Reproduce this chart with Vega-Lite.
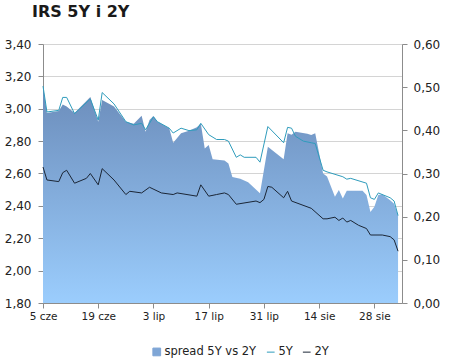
{
  "$schema": "https://vega.github.io/schema/vega-lite/v6.json",
  "width": 359,
  "height": 259,
  "autosize": {"type": "none"},
  "padding": {"left": 43, "top": 44, "right": 48, "bottom": 60},
  "background": "#ffffff",
  "title": {
    "text": "IRS 5Y i 2Y",
    "anchor": "start",
    "frame": "group",
    "dx": -11,
    "offset": 18,
    "font": "DejaVu Sans",
    "fontSize": 16,
    "fontWeight": "bold",
    "color": "#1a1a1a"
  },
  "config": {
    "view": {"stroke": null},
    "axis": {
      "labelFont": "DejaVu Sans",
      "labelFontSize": 12,
      "labelColor": "#222222",
      "domainColor": "#8c8c8c",
      "tickColor": "#8c8c8c",
      "tickSize": 5,
      "title": null
    },
    "legend": {"labelFont": "DejaVu Sans", "labelFontSize": 11.5, "labelColor": "#222222"}
  },
  "data": {
    "values": [
      {"date": "2014-06-05", "series": "spread", "value": 0.503},
      {"date": "2014-06-06", "series": "spread", "value": 0.44},
      {"date": "2014-06-09", "series": "spread", "value": 0.445},
      {"date": "2014-06-10", "series": "spread", "value": 0.46},
      {"date": "2014-06-11", "series": "spread", "value": 0.455},
      {"date": "2014-06-13", "series": "spread", "value": 0.44},
      {"date": "2014-06-17", "series": "spread", "value": 0.477},
      {"date": "2014-06-19", "series": "spread", "value": 0.42},
      {"date": "2014-06-20", "series": "spread", "value": 0.47},
      {"date": "2014-06-23", "series": "spread", "value": 0.455},
      {"date": "2014-06-26", "series": "spread", "value": 0.42},
      {"date": "2014-06-28", "series": "spread", "value": 0.415},
      {"date": "2014-06-30", "series": "spread", "value": 0.434},
      {"date": "2014-07-01", "series": "spread", "value": 0.397},
      {"date": "2014-07-02", "series": "spread", "value": 0.424},
      {"date": "2014-07-03", "series": "spread", "value": 0.433},
      {"date": "2014-07-04", "series": "spread", "value": 0.42},
      {"date": "2014-07-07", "series": "spread", "value": 0.405},
      {"date": "2014-07-08", "series": "spread", "value": 0.371},
      {"date": "2014-07-10", "series": "spread", "value": 0.393},
      {"date": "2014-07-12", "series": "spread", "value": 0.399},
      {"date": "2014-07-14", "series": "spread", "value": 0.407},
      {"date": "2014-07-15", "series": "spread", "value": 0.416},
      {"date": "2014-07-16", "series": "spread", "value": 0.358},
      {"date": "2014-07-17", "series": "spread", "value": 0.366},
      {"date": "2014-07-18", "series": "spread", "value": 0.333},
      {"date": "2014-07-21", "series": "spread", "value": 0.33},
      {"date": "2014-07-22", "series": "spread", "value": 0.323},
      {"date": "2014-07-23", "series": "spread", "value": 0.292},
      {"date": "2014-07-25", "series": "spread", "value": 0.288},
      {"date": "2014-07-27", "series": "spread", "value": 0.28},
      {"date": "2014-07-30", "series": "spread", "value": 0.254},
      {"date": "2014-08-01", "series": "spread", "value": 0.362},
      {"date": "2014-08-05", "series": "spread", "value": 0.333},
      {"date": "2014-08-06", "series": "spread", "value": 0.393},
      {"date": "2014-08-07", "series": "spread", "value": 0.39},
      {"date": "2014-08-08", "series": "spread", "value": 0.397},
      {"date": "2014-08-11", "series": "spread", "value": 0.392},
      {"date": "2014-08-12", "series": "spread", "value": 0.389},
      {"date": "2014-08-13", "series": "spread", "value": 0.393},
      {"date": "2014-08-15", "series": "spread", "value": 0.30},
      {"date": "2014-08-16", "series": "spread", "value": 0.293},
      {"date": "2014-08-18", "series": "spread", "value": 0.246},
      {"date": "2014-08-19", "series": "spread", "value": 0.262},
      {"date": "2014-08-20", "series": "spread", "value": 0.242},
      {"date": "2014-08-21", "series": "spread", "value": 0.26},
      {"date": "2014-08-25", "series": "spread", "value": 0.26},
      {"date": "2014-08-26", "series": "spread", "value": 0.25},
      {"date": "2014-08-27", "series": "spread", "value": 0.211},
      {"date": "2014-08-28", "series": "spread", "value": 0.223},
      {"date": "2014-08-29", "series": "spread", "value": 0.25},
      {"date": "2014-08-30", "series": "spread", "value": 0.252},
      {"date": "2014-09-01", "series": "spread", "value": 0.238},
      {"date": "2014-09-02", "series": "spread", "value": 0.23},
      {"date": "2014-09-03", "series": "spread", "value": 0.203},

      {"date": "2014-06-05", "series": "5Y", "value": 3.14},
      {"date": "2014-06-06", "series": "5Y", "value": 2.98},
      {"date": "2014-06-09", "series": "5Y", "value": 2.99},
      {"date": "2014-06-10", "series": "5Y", "value": 3.07},
      {"date": "2014-06-11", "series": "5Y", "value": 3.07},
      {"date": "2014-06-13", "series": "5Y", "value": 2.97},
      {"date": "2014-06-17", "series": "5Y", "value": 3.06},
      {"date": "2014-06-19", "series": "5Y", "value": 2.93},
      {"date": "2014-06-20", "series": "5Y", "value": 3.10},
      {"date": "2014-06-23", "series": "5Y", "value": 3.03},
      {"date": "2014-06-26", "series": "5Y", "value": 2.92},
      {"date": "2014-06-28", "series": "5Y", "value": 2.90},
      {"date": "2014-06-30", "series": "5Y", "value": 2.91},
      {"date": "2014-07-01", "series": "5Y", "value": 2.87},
      {"date": "2014-07-03", "series": "5Y", "value": 2.95},
      {"date": "2014-07-04", "series": "5Y", "value": 2.92},
      {"date": "2014-07-07", "series": "5Y", "value": 2.88},
      {"date": "2014-07-08", "series": "5Y", "value": 2.85},
      {"date": "2014-07-10", "series": "5Y", "value": 2.88},
      {"date": "2014-07-12", "series": "5Y", "value": 2.865},
      {"date": "2014-07-14", "series": "5Y", "value": 2.87},
      {"date": "2014-07-15", "series": "5Y", "value": 2.91},
      {"date": "2014-07-17", "series": "5Y", "value": 2.84},
      {"date": "2014-07-19", "series": "5Y", "value": 2.81},
      {"date": "2014-07-21", "series": "5Y", "value": 2.81},
      {"date": "2014-07-22", "series": "5Y", "value": 2.80},
      {"date": "2014-07-24", "series": "5Y", "value": 2.70},
      {"date": "2014-07-25", "series": "5Y", "value": 2.715},
      {"date": "2014-07-26", "series": "5Y", "value": 2.70},
      {"date": "2014-07-29", "series": "5Y", "value": 2.70},
      {"date": "2014-07-30", "series": "5Y", "value": 2.67},
      {"date": "2014-08-01", "series": "5Y", "value": 2.89},
      {"date": "2014-08-05", "series": "5Y", "value": 2.79},
      {"date": "2014-08-06", "series": "5Y", "value": 2.885},
      {"date": "2014-08-07", "series": "5Y", "value": 2.88},
      {"date": "2014-08-08", "series": "5Y", "value": 2.83},
      {"date": "2014-08-10", "series": "5Y", "value": 2.80},
      {"date": "2014-08-12", "series": "5Y", "value": 2.79},
      {"date": "2014-08-13", "series": "5Y", "value": 2.785},
      {"date": "2014-08-15", "series": "5Y", "value": 2.62},
      {"date": "2014-08-16", "series": "5Y", "value": 2.61},
      {"date": "2014-08-20", "series": "5Y", "value": 2.58},
      {"date": "2014-08-21", "series": "5Y", "value": 2.565},
      {"date": "2014-08-22", "series": "5Y", "value": 2.57},
      {"date": "2014-08-26", "series": "5Y", "value": 2.54},
      {"date": "2014-08-27", "series": "5Y", "value": 2.45},
      {"date": "2014-08-28", "series": "5Y", "value": 2.44},
      {"date": "2014-08-29", "series": "5Y", "value": 2.48},
      {"date": "2014-09-01", "series": "5Y", "value": 2.45},
      {"date": "2014-09-02", "series": "5Y", "value": 2.43},
      {"date": "2014-09-03", "series": "5Y", "value": 2.34},

      {"date": "2014-06-05", "series": "2Y", "value": 2.64},
      {"date": "2014-06-06", "series": "2Y", "value": 2.56},
      {"date": "2014-06-09", "series": "2Y", "value": 2.55},
      {"date": "2014-06-10", "series": "2Y", "value": 2.605},
      {"date": "2014-06-11", "series": "2Y", "value": 2.62},
      {"date": "2014-06-13", "series": "2Y", "value": 2.54},
      {"date": "2014-06-16", "series": "2Y", "value": 2.57},
      {"date": "2014-06-17", "series": "2Y", "value": 2.60},
      {"date": "2014-06-19", "series": "2Y", "value": 2.53},
      {"date": "2014-06-20", "series": "2Y", "value": 2.63},
      {"date": "2014-06-23", "series": "2Y", "value": 2.56},
      {"date": "2014-06-26", "series": "2Y", "value": 2.47},
      {"date": "2014-06-27", "series": "2Y", "value": 2.49},
      {"date": "2014-06-30", "series": "2Y", "value": 2.48},
      {"date": "2014-07-02", "series": "2Y", "value": 2.515},
      {"date": "2014-07-05", "series": "2Y", "value": 2.48},
      {"date": "2014-07-08", "series": "2Y", "value": 2.47},
      {"date": "2014-07-09", "series": "2Y", "value": 2.48},
      {"date": "2014-07-14", "series": "2Y", "value": 2.46},
      {"date": "2014-07-15", "series": "2Y", "value": 2.53},
      {"date": "2014-07-17", "series": "2Y", "value": 2.46},
      {"date": "2014-07-19", "series": "2Y", "value": 2.47},
      {"date": "2014-07-21", "series": "2Y", "value": 2.48},
      {"date": "2014-07-22", "series": "2Y", "value": 2.47},
      {"date": "2014-07-24", "series": "2Y", "value": 2.41},
      {"date": "2014-07-29", "series": "2Y", "value": 2.43},
      {"date": "2014-07-30", "series": "2Y", "value": 2.42},
      {"date": "2014-07-31", "series": "2Y", "value": 2.44},
      {"date": "2014-08-01", "series": "2Y", "value": 2.52},
      {"date": "2014-08-02", "series": "2Y", "value": 2.515},
      {"date": "2014-08-05", "series": "2Y", "value": 2.45},
      {"date": "2014-08-06", "series": "2Y", "value": 2.49},
      {"date": "2014-08-07", "series": "2Y", "value": 2.43},
      {"date": "2014-08-12", "series": "2Y", "value": 2.385},
      {"date": "2014-08-15", "series": "2Y", "value": 2.32},
      {"date": "2014-08-16", "series": "2Y", "value": 2.32},
      {"date": "2014-08-18", "series": "2Y", "value": 2.33},
      {"date": "2014-08-19", "series": "2Y", "value": 2.31},
      {"date": "2014-08-20", "series": "2Y", "value": 2.325},
      {"date": "2014-08-21", "series": "2Y", "value": 2.30},
      {"date": "2014-08-22", "series": "2Y", "value": 2.31},
      {"date": "2014-08-24", "series": "2Y", "value": 2.28},
      {"date": "2014-08-26", "series": "2Y", "value": 2.26},
      {"date": "2014-08-27", "series": "2Y", "value": 2.22},
      {"date": "2014-08-30", "series": "2Y", "value": 2.22},
      {"date": "2014-09-01", "series": "2Y", "value": 2.21},
      {"date": "2014-09-02", "series": "2Y", "value": 2.19},
      {"date": "2014-09-03", "series": "2Y", "value": 2.12}
    ]
  },
  "encoding": {
    "x": {
      "field": "date",
      "type": "temporal",
      "scale": {
        "domain": [
          {"year": 2014, "month": 6, "date": 5, "utc": true},
          {"year": 2014, "month": 9, "date": 4, "utc": true}
        ]
      },
      "axis": {
        "values": [
          {"year": 2014, "month": 6, "date": 5, "utc": true},
          {"year": 2014, "month": 6, "date": 19, "utc": true},
          {"year": 2014, "month": 7, "date": 3, "utc": true},
          {"year": 2014, "month": 7, "date": 17, "utc": true},
          {"year": 2014, "month": 7, "date": 31, "utc": true},
          {"year": 2014, "month": 8, "date": 14, "utc": true},
          {"year": 2014, "month": 8, "date": 28, "utc": true}
        ],
        "labelExpr": "utcdate(datum.value) + ' ' + ['sty','lut','mar','kwi','maj','cze','lip','sie','wrz','paź','lis','gru'][utcmonth(datum.value)]",
        "grid": false,
        "labelPadding": 3,
        "labelFontSize": 10.5,
        "labelFlush": false,
        "labelOverlap": false
      }
    }
  },
  "layer": [
    {
      "transform": [{"filter": "datum.series === 'spread'"}],
      "mark": {
        "type": "area",
        "interpolate": "linear",
        "fill": {
          "gradient": "linear",
          "x1": 0, "y1": 0, "x2": 0, "y2": 1,
          "stops": [
            {"offset": 0, "color": "#6b8cba"},
            {"offset": 1, "color": "#9bcdfd"}
          ]
        }
      },
      "encoding": {
        "y": {
          "field": "value",
          "type": "quantitative",
          "scale": {"domain": [0, 0.6], "nice": false, "zero": true},
          "axis": {
            "orient": "right",
            "values": [0, 0.1, 0.2, 0.3, 0.4, 0.5, 0.6],
            "labelExpr": "replace(format(datum.value, '.2f'), '.', ',')",
            "grid": false,
            "labelPadding": 6
          }
        }
      }
    },
    {
      "transform": [{"filter": "datum.series !== 'spread'"}],
      "mark": {"type": "line", "strokeWidth": 1, "interpolate": "linear"},
      "encoding": {
        "y": {
          "field": "value",
          "type": "quantitative",
          "scale": {"domain": [1.8, 3.4], "nice": false, "zero": false},
          "axis": {
            "orient": "left",
            "values": [1.8, 2.0, 2.2, 2.4, 2.6, 2.8, 3.0, 3.2, 3.4],
            "labelExpr": "replace(format(datum.value, '.2f'), '.', ',')",
            "grid": true,
            "gridColor": "#d4d4d4",
            "labelPadding": 7
          }
        },
        "color": {
          "field": "series",
          "type": "nominal",
          "scale": {
            "domain": ["spread 5Y vs 2Y", "5Y", "2Y"],
            "range": ["#7fa6d6", "#2f9cbc", "#1b2636"]
          },
          "legend": {
            "title": null,
            "orient": "none",
            "legendX": 108,
            "legendY": 302,
            "direction": "horizontal",
            "columnPadding": 7,
            "labelOffset": 2,
            "symbolSize": 60,
            "symbolStrokeWidth": 1,
            "encode": {
              "symbols": {
                "update": {
                  "shape": {"signal": "datum.value === 'spread 5Y vs 2Y' ? 'square' : 'stroke'"},
                  "fill": {"signal": "datum.value === 'spread 5Y vs 2Y' ? '#7fa6d6' : 'transparent'"},
                  "stroke": {"signal": "datum.value === 'spread 5Y vs 2Y' ? '#7fa6d6' : (datum.value === '5Y' ? '#2f9cbc' : '#1b2636')"}
                }
              }
            }
          }
        }
      }
    }
  ],
  "resolve": {"scale": {"y": "independent"}}
}
